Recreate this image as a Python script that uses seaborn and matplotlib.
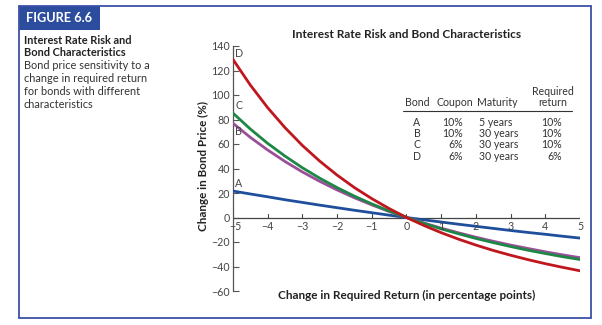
import matplotlib
matplotlib.use("Agg")
import matplotlib.pyplot as plt
import seaborn as sns
import pandas as pd
from matplotlib.patches import Rectangle
from matplotlib.lines import Line2D

# ---- data ----
rate_change = [-5, -4.5, -4, -3.5, -3, -2.5, -2, -1.5, -1, -0.5, 0,
               0.5, 1, 1.5, 2, 2.5, 3, 3.5, 4, 4.5, 5]
bond_a = [21.6, 19.2, 16.9, 14.5, 12.3, 10.1, 8.0, 5.9, 3.9, 1.9, 0.0,
          -1.9, -3.7, -5.5, -7.2, -8.9, -10.6, -12.2, -13.7, -15.3, -16.8]
bond_b = [76.9, 65.4, 55.1, 45.7, 37.2, 29.5, 22.5, 16.1, 10.3, 4.9, 0.0,
          -4.5, -8.7, -12.5, -16.1, -19.4, -22.5, -25.3, -28.0, -30.5, -32.8]
bond_c = [85.2, 72.2, 60.5, 50.1, 40.6, 32.1, 24.4, 17.4, 11.1, 5.3, 0.0,
          -4.8, -9.3, -13.3, -17.1, -20.5, -23.7, -26.7, -29.4, -32.0, -34.3]
bond_d = [129.0, 108.1, 89.6, 73.3, 58.8, 46.0, 34.6, 24.4, 15.4, 7.3, 0.0,
          -6.5, -12.4, -17.7, -22.5, -26.9, -30.8, -34.4, -37.7, -40.7, -43.5]
bond_names = ["A", "B", "C", "D"]
coupons = ["10%", "10%", "6%", "6%"]
maturities = ["5 years", "30 years", "30 years", "30 years"]
required = ["10%", "10%", "10%", "6%"]
y_ticks = [-60, -40, -20, 0, 20, 40, 60, 80, 100, 120, 140]
x_ticks = [-5, -4, -3, -2, -1, 0, 1, 2, 3, 4, 5]

colors = {"A": "#1f4f9c", "B": "#9b4f98", "C": "#1d8746", "D": "#c0161e"}

rows = []
for name, vals in zip(bond_names, [bond_a, bond_b, bond_c, bond_d]):
    for x, v in zip(rate_change, vals):
        rows.append({"x": x, "y": v, "bond": name})
df = pd.DataFrame(rows)

sns.set_style("white")
plt.rcParams["font.family"] = ["Lato", "DejaVu Sans"]

W, H = 602, 325
fig = plt.figure(figsize=(W / 100, H / 100), dpi=100)

def fx(px):
    return px / W

def fy(py):
    return 1 - py / H

frame_col = "#3d52a8"
# outer frame
fig.add_artist(Line2D([fx(19), fx(19)], [fy(6), fy(318)], color=frame_col, lw=1.3))
fig.add_artist(Line2D([fx(19), fx(591)], [fy(318), fy(318)], color=frame_col, lw=1.3))
fig.add_artist(Line2D([fx(591), fx(591)], [fy(6), fy(318)], color=frame_col, lw=1.3))
fig.add_artist(Line2D([fx(19), fx(591)], [fy(6), fy(6)], color=frame_col, lw=1.3))
# figure label box
fig.add_artist(Rectangle((fx(19), fy(30)), fx(100) - fx(19), fy(6) - fy(30),
                         facecolor="#2c4c9e", edgecolor="none"))
fig.text(fx(26), fy(18.5), "FIGURE 6.6", color="white", fontsize=9.2,
         fontweight="bold", va="center", ha="left")

side = [("Interest Rate Risk and", True), ("Bond Characteristics", True),
        ("Bond price sensitivity to a", False), ("change in required return", False),
        ("for bonds with different", False), ("characteristics", False)]
for i, (t, b) in enumerate(side):
    fig.text(fx(24), fy(40 + i * 12.8), t, fontsize=7.9, va="center", ha="left",
             fontweight="bold" if b else "normal",
             color="#222222" if b else "#333333")

ax = fig.add_axes([fx(233), fy(291), fx(580) - fx(233), fy(46) - fy(291)])
sns.lineplot(data=df, x="x", y="y", hue="bond", palette=colors, lw=2.0,
             legend=False, ax=ax, zorder=3)
ax.set_xlim(-5, 5)
ax.set_ylim(-60, 140)
ax.set_xlabel("")
ax.set_ylabel("")
for s in ["top", "right", "bottom"]:
    ax.spines[s].set_visible(False)
ax.spines["left"].set_color("#555555")
ax.spines["left"].set_linewidth(0.9)
ax.set_yticks(y_ticks)
ax.set_yticklabels([str(v).replace("-", "\u2212") for v in y_ticks])
ax.tick_params(axis="y", direction="in", length=4, width=0.8, color="#555555",
               labelsize=7.7, labelcolor="#444444", pad=2, left=True)
ax.set_xticks([])
# x axis at zero
ax.axhline(0, color="#444444", lw=0.9, zorder=2)
for xt in x_ticks:
    ax.plot([xt, xt], [0, 2.5], color="#444444", lw=0.8, zorder=2)
    if xt != -5:
        ax.text(xt, -3.2, str(xt).replace("-", "\u2212"), ha="center", va="top",
                fontsize=7.7, color="#444444")
ax.text(-4.93, -3.2, "\u22125", ha="center", va="top", fontsize=7.7, color="#444444")

# bond labels at curve starts
for name, yv in zip(bond_names, [bond_a[0], bond_b[0], bond_c[0], bond_d[0]]):
    off = {"A": 6, "B": -7, "C": 6, "D": 5}[name]
    ax.text(-4.93, yv + off, name, fontsize=7.7, color="#444444", ha="left", va="center")

fig.text(fx(407), fy(295), "Change in Required Return (in percentage points)",
         fontsize=8.5, fontweight="bold", color="#222222", ha="center", va="center")
fig.text(fx(203), fy(166), "Change in Bond Price (%)", rotation=90, fontsize=8.4,
         fontweight="bold", color="#222222", ha="center", va="center")

fig.text(fx(407), fy(35), "Interest Rate Risk and Bond Characteristics",
         fontsize=8.6, fontweight="bold", ha="center", va="center", color="#222222")

# table
tc = "#333333"
fs = 7.6
fig.text(fx(417), fy(103), "Bond", fontsize=fs, ha="center", va="center", color=tc)
fig.text(fx(455), fy(103), "Coupon", fontsize=fs, ha="center", va="center", color=tc)
fig.text(fx(497), fy(103), "Maturity", fontsize=fs, ha="center", va="center", color=tc)
fig.text(fx(553), fy(92), "Required", fontsize=fs, ha="center", va="center", color=tc)
fig.text(fx(553), fy(103), "return", fontsize=fs, ha="center", va="center", color=tc)
fig.add_artist(Line2D([fx(403), fx(572)], [fy(111), fy(111)], color="#333333", lw=0.8))
for i in range(4):
    yy = fy(122 + i * 11.4)
    fig.text(fx(417), yy, bond_names[i], fontsize=fs, ha="center", va="center", color=tc)
    fig.text(fx(463), yy, coupons[i], fontsize=fs, ha="right", va="center", color=tc)
    fig.text(fx(479), yy, maturities[i], fontsize=fs, ha="left", va="center", color=tc)
    fig.text(fx(562), yy, required[i], fontsize=fs, ha="right", va="center", color=tc)

fig.savefig("out.png", dpi=100)
